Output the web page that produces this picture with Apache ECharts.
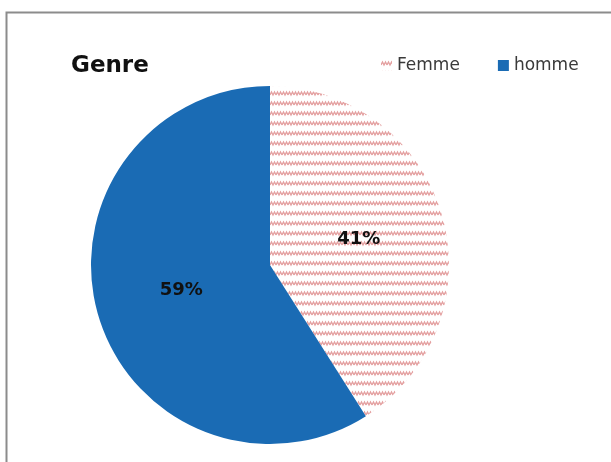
<!DOCTYPE html>
<html>
<head>
<meta charset="utf-8">
<script src="https://cdn.jsdelivr.net/npm/echarts@6/dist/echarts.min.js"></script>
<style>
  html, body { margin: 0; padding: 0; background: #fff; }
  #chart { width: 611px; height: 462px; }
</style>
</head>
<body>
<div id="chart"></div>
<script>
// données du graphique
var categories = ['Femme', 'homme'];
var values = [41, 59];
var titleText = 'Genre';

// motif hachuré rouge pour "Femme"
function makePattern() {
    var c = document.createElement('canvas');
    c.width = 6;
    c.height = 10;
    var ctx = c.getContext('2d');
    ctx.strokeStyle = '#e4a0a0';
    ctx.lineWidth = 1.3;
    ctx.beginPath();
    ctx.moveTo(0, 5);
    ctx.lineTo(1.5, 2);
    ctx.lineTo(3, 5);
    ctx.lineTo(4.5, 2);
    ctx.lineTo(6, 5);
    ctx.stroke();
    return c;
}

var colors = [
    { image: makePattern(), repeat: 'repeat' },
    '#1a6bb4'
];

var chart = echarts.init(document.getElementById('chart'));

var option = {
    animation: false,
    title: {
        text: titleText,
        left: 66,
        top: 50,
        textStyle: {
            fontFamily: 'DejaVu Sans',
            fontWeight: 'bold',
            fontSize: 23,
            color: '#111'
        }
    },
    legend: {
        data: categories,
        left: 376,
        top: 52,
        itemWidth: 11,
        itemHeight: 11,
        itemGap: 38,
        icon: 'rect',
        textStyle: {
            fontFamily: 'DejaVu Sans',
            fontSize: 17,
            color: '#3a3a3a'
        }
    },
    graphic: [{
        type: 'rect',
        shape: { x: 6.5, y: 12.5, width: 700, height: 600 },
        style: { fill: 'none', stroke: '#8c8c8c', lineWidth: 2 },
        silent: true
    }],
    series: [{
        type: 'pie',
        center: [270, 265],
        radius: 179,
        startAngle: 90,
        clockwise: true,
        label: {
            position: 'inner',
            formatter: '{c}%',
            fontFamily: 'DejaVu Sans',
            fontWeight: 'bold',
            fontSize: 18,
            color: '#111'
        },
        labelLine: { show: false },
        emphasis: { disabled: true },
        data: categories.map(function (name, i) {
            return {
                name: name,
                value: values[i],
                itemStyle: { color: colors[i] }
            };
        })
    }]
};

chart.setOption(option);
</script>
</body>
</html>
